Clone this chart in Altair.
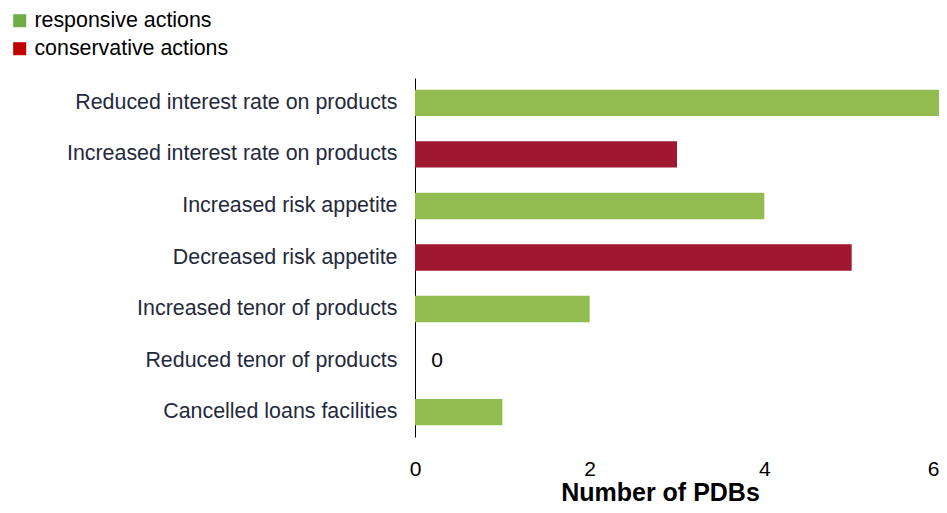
import altair as alt
import pandas as pd

categories = [
    "Reduced interest rate on products",
    "Increased interest rate on products",
    "Increased risk appetite",
    "Decreased risk appetite",
    "Increased tenor of products",
    "Reduced tenor of products",
    "Cancelled loans facilities",
]
values = [6, 3, 4, 5, 2, 0, 1]
groups = ["responsive actions", "conservative actions", "responsive actions",
          "conservative actions", "responsive actions", "responsive actions",
          "responsive actions"]
legend_names = ["responsive actions", "conservative actions"]
bar_colors = ["#92BC50", "#A01830"]
legend_colors = ["#70AD47", "#C00000"]

df = pd.DataFrame({"cat": categories, "val": values, "grp": groups})
FONT = "Liberation Sans"

y_enc = alt.Y("cat:N", sort=categories, title=None,
              scale=alt.Scale(paddingInner=0.49, paddingOuter=0.23),
              axis=alt.Axis(domain=True, domainColor="#000000", ticks=False,
                            labelFontSize=21.4, labelColor="#1F2A3C",
                            labelPadding=18, labelFont=FONT, labelLimit=400))
x_enc = alt.X("val:Q", title="Number of PDBs",
              scale=alt.Scale(domain=[0, 6], nice=False),
              axis=alt.Axis(values=[0, 2, 4, 6], format="d", domain=False, ticks=False,
                            grid=False, labelFontSize=21, labelColor="#000000",
                            labelPadding=21, labelFont=FONT, labelFlush=False,
                            labelAlign={"condition": {"test": "datum.value == 6",
                                                      "value": "right"},
                                        "value": "center"},
                            titleFont=FONT, titleFontSize=25, titleFontWeight="bold",
                            titleColor="#000000", titleX=245, titleY=63,
                            titleBaseline="alphabetic", titleAlign="center"))

bars = alt.Chart(df).mark_bar().encode(
    y=y_enc, x=x_enc,
    color=alt.Color("grp:N", scale=alt.Scale(domain=legend_names, range=bar_colors),
                    legend=None),
)

zero_lbl = alt.Chart(df).transform_filter("datum.val == 0").mark_text(
    align="center", baseline="middle", dx=22, fontSize=21, font=FONT, color="#000000"
).encode(y=alt.Y("cat:N", sort=categories), x="val:Q", text="val:Q")

legend_layer = alt.Chart(df).mark_square(opacity=0, size=0).encode(
    y=alt.Y("cat:N", sort=categories), x="val:Q",
    fill=alt.Fill("grp:N", scale=alt.Scale(domain=legend_names, range=legend_colors),
                  legend=alt.Legend(title=None, orient="none", legendX=-406, legendY=-68,
                                    symbolType="square", symbolSize=170,
                                    symbolOpacity=1, symbolStrokeWidth=0,
                                    labelFontSize=21.4, labelFont=FONT, labelLimit=400,
                                    labelColor="#000000", rowPadding=5,
                                    labelOffset=4)),
)

chart = alt.layer(bars, zero_lbl, legend_layer).resolve_scale(
    color="independent", fill="independent"
).properties(
    width=524, height=359,
    autosize=alt.AutoSizeParams(type="none"),
    padding={"left": 407, "top": 70, "right": 0, "bottom": 68},
).configure_view(stroke=None)

chart.save("out.html", embed_options={"renderer": "svg", "actions": False})
